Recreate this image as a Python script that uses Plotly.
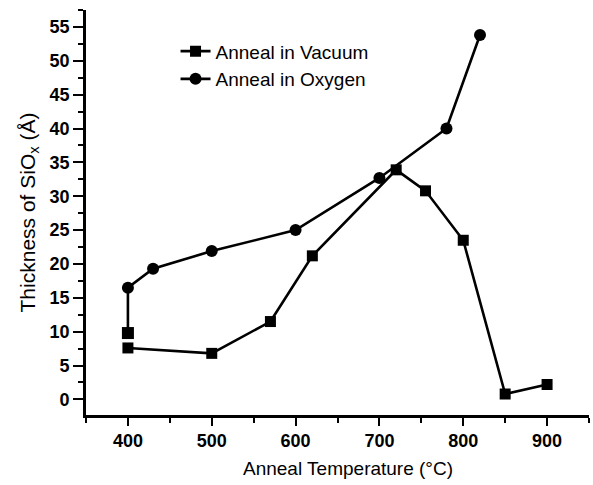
import plotly.graph_objects as go

# Data
vac_temp = [400, 500, 570, 620, 720, 755, 800, 850, 900]
vac_thk = [7.6, 6.8, 11.5, 21.2, 33.9, 30.8, 23.5, 0.8, 2.2]

oxy_temp = [820, 780, 700, 600, 500, 430, 400, 400]
oxy_thk = [53.8, 40.0, 32.7, 25.0, 21.9, 19.3, 16.5, 9.8]
oxy_symbols = ["circle"] * 7 + ["square"]

x_ticks = [400, 500, 600, 700, 800, 900]
y_ticks = [0, 5, 10, 15, 20, 25, 30, 35, 40, 45, 50, 55]

fig = go.Figure()
fig.add_trace(go.Scatter(
    x=vac_temp, y=vac_thk, mode="lines+markers", name="Anneal in Vacuum",
    line=dict(color="black", width=2.6),
    marker=dict(symbol="square", size=11, color="black"),
))
fig.add_trace(go.Scatter(
    x=oxy_temp, y=oxy_thk, mode="lines+markers", name="Anneal in Oxygen",
    line=dict(color="black", width=2.6),
    marker=dict(symbol=oxy_symbols, size=12, color="black"),
))

fig.update_layout(
    width=593, height=485,
    margin=dict(l=86, r=4, t=10, b=70),
    paper_bgcolor="white", plot_bgcolor="white",
    font=dict(family="Liberation Sans, Arial, sans-serif", color="black"),
    showlegend=True,
    legend=dict(
        x=0.178, y=0.945, xanchor="left", yanchor="top",
        font=dict(size=19, color="black"),
        bgcolor="rgba(0,0,0,0)",
    ),
    annotations=[dict(
        text="Anneal Temperature (°C)", xref="paper", yref="paper",
        x=(348 - 86) / 503, y=-(468 - 415) / 405, xanchor="center", yanchor="middle",
        showarrow=False, font=dict(size=19, color="black"),
    )],
)
fig.update_xaxes(
    range=[350, 950], tickvals=x_ticks,
    showline=True, linecolor="black", linewidth=2.6,
    ticks="outside", ticklen=8, tickwidth=2.2, tickcolor="black",
    tickfont=dict(size=18, family="Liberation Sans, Arial, sans-serif", weight="bold"),
    minor=dict(dtick=50, tick0=0, ticks="outside", ticklen=5, tickwidth=2, tickcolor="black", showgrid=False),
    showgrid=False, zeroline=False,
)
fig.update_yaxes(
    range=[-2.3, 57.5], tickvals=y_ticks,
    showline=True, linecolor="black", linewidth=2.6,
    ticks="outside", ticklen=10, tickwidth=2.2, tickcolor="black",
    tickfont=dict(size=18, family="Liberation Sans, Arial, sans-serif", weight="bold"),
    minor=dict(dtick=2.5, tick0=0, ticks="outside", ticklen=5, tickwidth=2, tickcolor="black", showgrid=False),
    showgrid=False, zeroline=False,
    title=dict(text="Thickness of SiO<sub>x</sub> (Å)", font=dict(size=21), standoff=9),
)

fig.write_html("out.html")
